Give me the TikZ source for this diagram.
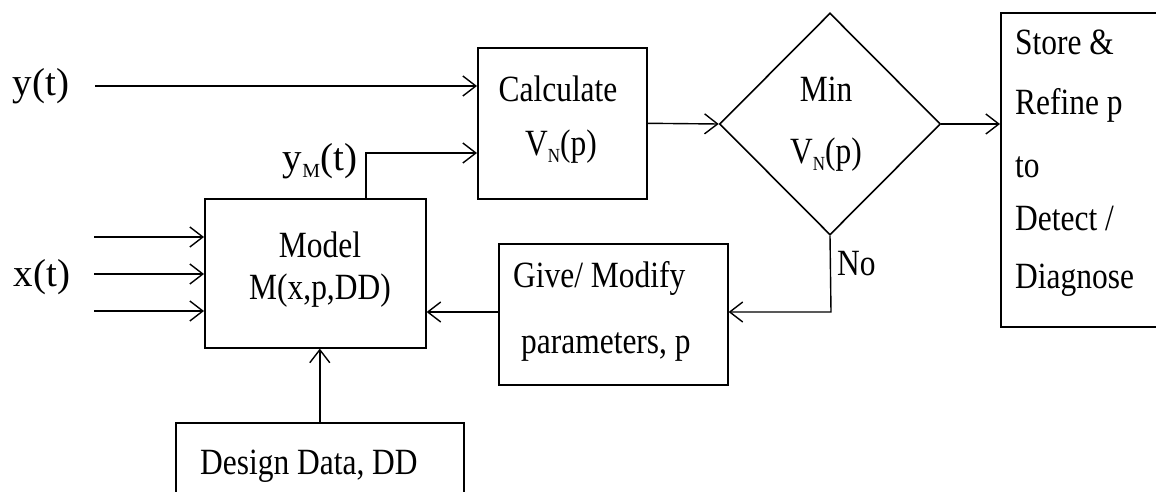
\documentclass[tikz,border=0pt]{standalone}
\usepackage{fontspec}
\setmainfont{Liberation Serif}[FakeStretch=0.85]
\newfontfamily\sigfont{Liberation Serif}
\usetikzlibrary{arrows.meta,shapes.geometric}
\newcommand{\lowsub}[1]{\lower7pt\hbox{\fontsize{20}{20}\selectfont #1}}
\tikzset{
  blk/.style={draw, line width=1.6pt, inner sep=0pt},
  arr/.style={line width=1.4pt, -{Straight Barb[length=13pt,width=20pt,line width=1.4pt]}},
  txt/.style={inner sep=0pt, font=\fontsize{37}{40}\selectfont},
  sig/.style={inner sep=0pt, font=\sigfont\fontsize{39}{42}\selectfont},
}
\begin{document}
\begin{tikzpicture}[x=1pt,y=-1pt]
\useasboundingbox (0,0) rectangle (1156,492);
\clip (0,0) rectangle (1156,492);

% blocks
\node[blk, anchor=north west, minimum width=169, minimum height=151] (calc) at (477,47) {};
\node[blk, anchor=north west, minimum width=221, minimum height=149] (model) at (204,198) {};
\node[blk, anchor=north west, minimum width=229, minimum height=141] (give) at (498,243) {};
\node[blk, anchor=north west, minimum width=288, minimum height=100] (design) at (175,422) {};
\node[blk, anchor=north west, minimum width=220, minimum height=314] (store) at (1000,12) {};
\node[draw, line width=1.6pt, diamond, aspect=1, minimum width=221, minimum height=222, inner sep=0pt] (dia) at (830,124) {};

% block texts
\node[txt, anchor=base] (calcA) at (558,102) {Calculate};
\node[txt, anchor=base] (calcB) at (561,155) {V\lowsub{N}(p)};
\node[txt, anchor=base] (modA) at (320,257) {Model};
\node[txt, anchor=base] (modB) at (320,299) {M(x,p,DD)};
\node[txt, anchor=base west] (giveA) at (513,287) {Give/ Modify};
\node[txt, anchor=base west] (giveB) at (521,353) {parameters, p};
\node[txt, anchor=base west] (desA) at (200,474) {Design Data, DD};
\node[txt, anchor=base] (minA) at (826,102) {Min};
\node[txt, anchor=base] (minB) at (826,163) {V\lowsub{N}(p)};
\node[txt, anchor=base west] (st1) at (1015,55) {Store \&};
\node[txt, anchor=base west] (st2) at (1015,115) {Refine p};
\node[txt, anchor=base west] (st3) at (1015,177) {to};
\node[txt, anchor=base west] (st4) at (1015,230) {Detect /};
\node[txt, anchor=base west] (st5) at (1015,288) {Diagnose};
\node[txt, anchor=base west] (no) at (837,275) {No};

% signal labels
\node[sig, anchor=base] (ylab) at (41,96) {y(t)};
\node[sig, anchor=base] (xlab) at (42,286) {x(t)};
\node[sig, anchor=base] (ymlab) at (320,170) {y\lowsub{M}(t)};

% connector end points
\coordinate (ys) at (95,86);
\coordinate (x1) at (94,237);
\coordinate (x2) at (94,274);
\coordinate (x3) at (94,311);
\coordinate (yms) at (366,198);
\coordinate (ymk) at (366,153);
\coordinate (nok) at (831,312);

% connectors
\draw[arr] (ys) -- (calc.west |- ys);
\draw[arr] (x1) -- (model.west |- x1);
\draw[arr] (x2) -- (model.west |- x2);
\draw[arr] (x3) -- (model.west |- x3);
\draw[arr] (yms) -- (ymk) -- (calc.west |- ymk);
\draw[arr] (calc.east) -- (dia.west);
\draw[arr] (dia.east) -- (store.west |- dia.east);
\draw[arr] (dia.south) -- (nok) -- (give.east |- nok);
\draw[arr] (give.west |- nok) -- (model.east |- nok);
\draw[arr] (design.north) -- (design.north |- model.south);
\end{tikzpicture}
\end{document}
